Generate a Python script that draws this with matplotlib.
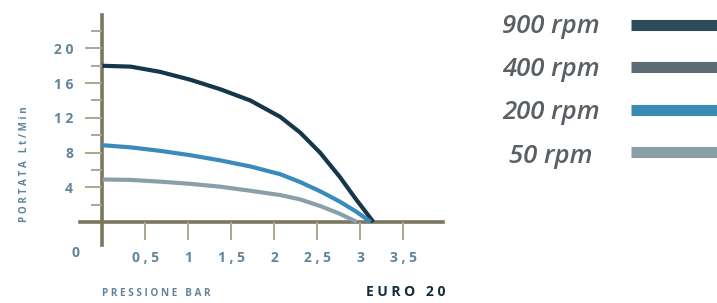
import matplotlib
matplotlib.use("Agg")
import matplotlib.pyplot as plt

# Portata (Lt/Min) vs pressione (bar)
pressure_900 = [0.0, 0.33, 0.67, 1.02, 1.37, 1.72, 2.07, 2.3, 2.53, 2.76, 2.95, 3.07, 3.15]
flow_900 = [18.0, 17.9, 17.3, 16.4, 15.3, 14.0, 12.1, 10.3, 8.0, 5.2, 2.6, 1.05, 0.0]

pressure_200 = [0.0, 0.33, 0.67, 1.02, 1.37, 1.72, 2.07, 2.3, 2.53, 2.76, 2.95, 3.12]
flow_200 = [8.85, 8.6, 8.2, 7.7, 7.1, 6.4, 5.5, 4.6, 3.55, 2.35, 1.2, 0.0]

pressure_50 = [0.0, 0.33, 0.67, 1.02, 1.37, 1.72, 2.07, 2.3, 2.53, 2.76, 2.96]
flow_50 = [4.9, 4.85, 4.65, 4.4, 4.07, 3.6, 3.1, 2.6, 1.85, 0.95, 0.0]

legend_labels = ["900 rpm", "400 rpm", "200 rpm", "50 rpm"]
legend_colors = ["#2e4b5a", "#5c6c75", "#3b8ab5", "#8a9ea8"]

x_ticks = [0.5, 1.0, 1.5, 2.0, 2.5, 3.0, 3.5]
x_tick_labels = ["0 , 5", "1", "1 , 5", "2", "2 , 5", "3", "3 , 5"]
y_ticks = [4, 8, 12, 16, 20]
y_tick_labels = ["4", "8", "1 2", "1 6", "2 0"]
y_minor_ticks = [2, 6, 10, 14, 18, 22]

LABEL_COLOR = "#62849b"
AXIS_COLOR = "#7b7660"
TICK_COLOR = "#aea68c"
FONT = "Open Sans"

W, H = 717, 303
fig = plt.figure(figsize=(W / 100, H / 100), dpi=100)

# main chart, placed in pixel terms
ax = fig.add_axes([80 / W, 1 - 245 / H, 363 / W, 230 / H])
ax.set_xlim(-0.26, 3.96)
ax.set_ylim(-2.65, 23.85)

line_kw = dict(lw=3, solid_capstyle="butt", solid_joinstyle="round")
ax.plot(pressure_900, flow_900, color="#15364b", **line_kw)
ax.plot(pressure_200, flow_200, color="#3a8bbd", **line_kw)
ax.plot(pressure_50, flow_50, color="#8b9faa", **line_kw)

for side in ("top", "right"):
    ax.spines[side].set_visible(False)
for side in ("left", "bottom"):
    ax.spines[side].set_position(("data", 0))
    ax.spines[side].set_color(AXIS_COLOR)
    ax.spines[side].set_linewidth(2.6)
    ax.spines[side].set_zorder(1)

ax.set_xticks(x_ticks)
ax.set_xticklabels(x_tick_labels)
ax.set_yticks(y_ticks)
ax.set_yticklabels(y_tick_labels)
ax.set_yticks(y_minor_ticks, minor=True)
ax.tick_params(axis="x", direction="out", length=13, width=1.4, color=TICK_COLOR, pad=8)
ax.tick_params(axis="y", which="major", direction="out", length=12, width=1.4,
               color=TICK_COLOR, pad=9)
ax.tick_params(axis="y", which="minor", direction="out", length=8, width=1.4,
               color=TICK_COLOR)
for lab in ax.get_xticklabels() + ax.get_yticklabels():
    lab.set_fontfamily(FONT)
    lab.set_fontweight("bold")
    lab.set_fontsize(10)
    lab.set_color(LABEL_COLOR)

# texts outside the axes
fig.text(75 / W, 1 - 253 / H, "0", ha="center", va="center", fontsize=10,
         fontweight="bold", family=FONT, color=LABEL_COLOR)
fig.text(25 / W, 1 - 164 / H, "P O R T A T A   L t / M i n", rotation=90,
         ha="center", va="center", fontsize=7.1, fontweight="bold",
         family=FONT, color=LABEL_COLOR)
fig.text(102 / W, 1 - 293 / H, "P R E S S I O N E   B A R", ha="left",
         va="center", fontsize=7.2, fontweight="bold", family=FONT,
         color=LABEL_COLOR)
fig.text(445 / W, 1 - 292 / H, "E U R O   2 0", ha="right", va="center",
         fontsize=10, fontweight="bold", family=FONT, color="#0f2b3e")

# legend on the right
leg = fig.add_axes([0, 0, 1, 1])
leg.set_xlim(0, W)
leg.set_ylim(H, 0)
leg.axis("off")
text_base = [33, 76, 119, 163]
bar_y = [24.5, 67, 109.5, 151.5]
for lab, col, tb, by in zip(legend_labels, legend_colors, text_base, bar_y):
    leg.text(551, tb, lab, ha="center", va="baseline", fontsize=18.5,
             style="italic", fontweight="semibold", family=FONT, color="#5a5f63")
    leg.plot([631, W], [by, by], color=col, lw=8, solid_capstyle="butt")

fig.savefig("out.png", dpi=100)
